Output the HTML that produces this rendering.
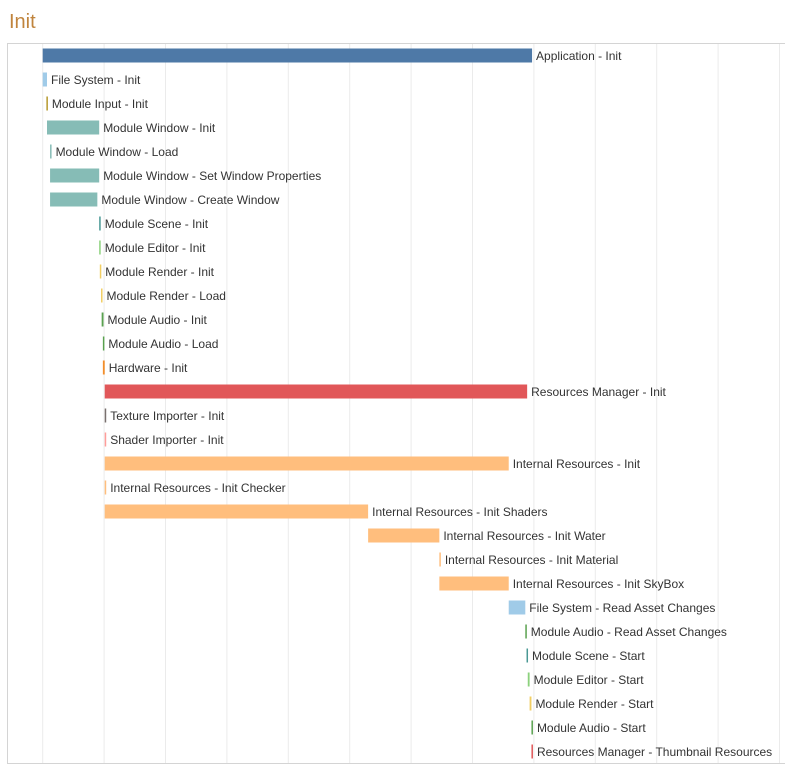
<!DOCTYPE html>
<html><head><meta charset="utf-8"><style>
body{margin:0;background:#fff;width:785px;height:765px;overflow:hidden;font-family:"Liberation Sans",sans-serif}
</style></head><body>
<svg id="chart" width="785" height="765" xmlns="http://www.w3.org/2000/svg">
<text x="9" y="28" font-size="20" fill="#c0843d">Init</text>
<rect x="7.5" y="43.5" width="780" height="720" fill="none" stroke="#d4d4d4"/>
<g id="grid"></g><g id="bars"></g>
</svg>
<script>
const tasks = ["Application - Init","File System - Init","Module Input - Init","Module Window - Init","Module Window - Load","Module Window - Set Window Properties","Module Window - Create Window","Module Scene - Init","Module Editor - Init","Module Render - Init","Module Render - Load","Module Audio - Init","Module Audio - Load","Hardware - Init","Resources Manager - Init","Texture Importer - Init","Shader Importer - Init","Internal Resources - Init","Internal Resources - Init Checker","Internal Resources - Init Shaders","Internal Resources - Init Water","Internal Resources - Init Material","Internal Resources - Init SkyBox","File System - Read Asset Changes","Module Audio - Read Asset Changes","Module Scene - Start","Module Editor - Start","Module Render - Start","Module Audio - Start","Resources Manager - Thumbnail Resources"];
const starts = [0,0,0.6,0.7,1.2,1.2,1.2,9.2,9.2,9.3,9.5,9.6,9.8,9.8,10.1,10.1,10.1,10.1,10.1,10.1,53,64.6,64.6,75.9,78.6,78.8,79,79.3,79.6,79.6];
const ends = [79.7,0.7,0.8,9.2,1.4,9.2,8.9,9.4,9.4,9.5,9.7,9.9,10,10.1,78.9,10.3,10.3,75.9,10.3,53,64.6,64.8,75.9,78.6,78.8,79,79.3,79.6,79.8,79.8];
const colors = ["#4e79a7","#a0cbe8","#b6992d","#86bcb6","#86bcb6","#86bcb6","#86bcb6","#499894","#8cd17d","#f1ce63","#f1ce63","#59a14f","#59a14f","#f28e2b","#e15759","#79706e","#ff9d9a","#ffbe7d","#ffbe7d","#ffbe7d","#ffbe7d","#ffbe7d","#ffbe7d","#a0cbe8","#59a14f","#499894","#8cd17d","#f1ce63","#59a14f","#e15759"];
const gridTicks = [0,10,20,30,40,50,60,70,80,90,100,110,120];
const ns="http://www.w3.org/2000/svg";
const x = v => 42.7 + v*6.14;
const y = i => 55.5 + i*24;
const g=document.getElementById('grid'), b=document.getElementById('bars');
gridTicks.forEach(t=>{
  const l=document.createElementNS(ns,'line');
  l.setAttribute('x1',x(t));l.setAttribute('x2',x(t));l.setAttribute('y1',44);l.setAttribute('y2',763);
  l.setAttribute('stroke','#ebebeb');
  
  
  g.appendChild(l);
});
tasks.forEach((name,i)=>{
  const x0=x(starts[i]), w=Math.max(1.5,x(ends[i])-x0);
  const r=document.createElementNS(ns,'rect');
  r.setAttribute('x',x0);r.setAttribute('y',y(i)-7);r.setAttribute('width',w);r.setAttribute('height',14);
  r.setAttribute('fill',colors[i]);
  
  
  b.appendChild(r);
  const t=document.createElementNS(ns,'text');
  t.setAttribute('x',x0+w+4);t.setAttribute('y',y(i)+4.5);t.setAttribute('font-size','12');t.setAttribute('fill','#333');
  t.textContent=name;
  
  
  b.appendChild(t);
});
</script>
</body></html>
